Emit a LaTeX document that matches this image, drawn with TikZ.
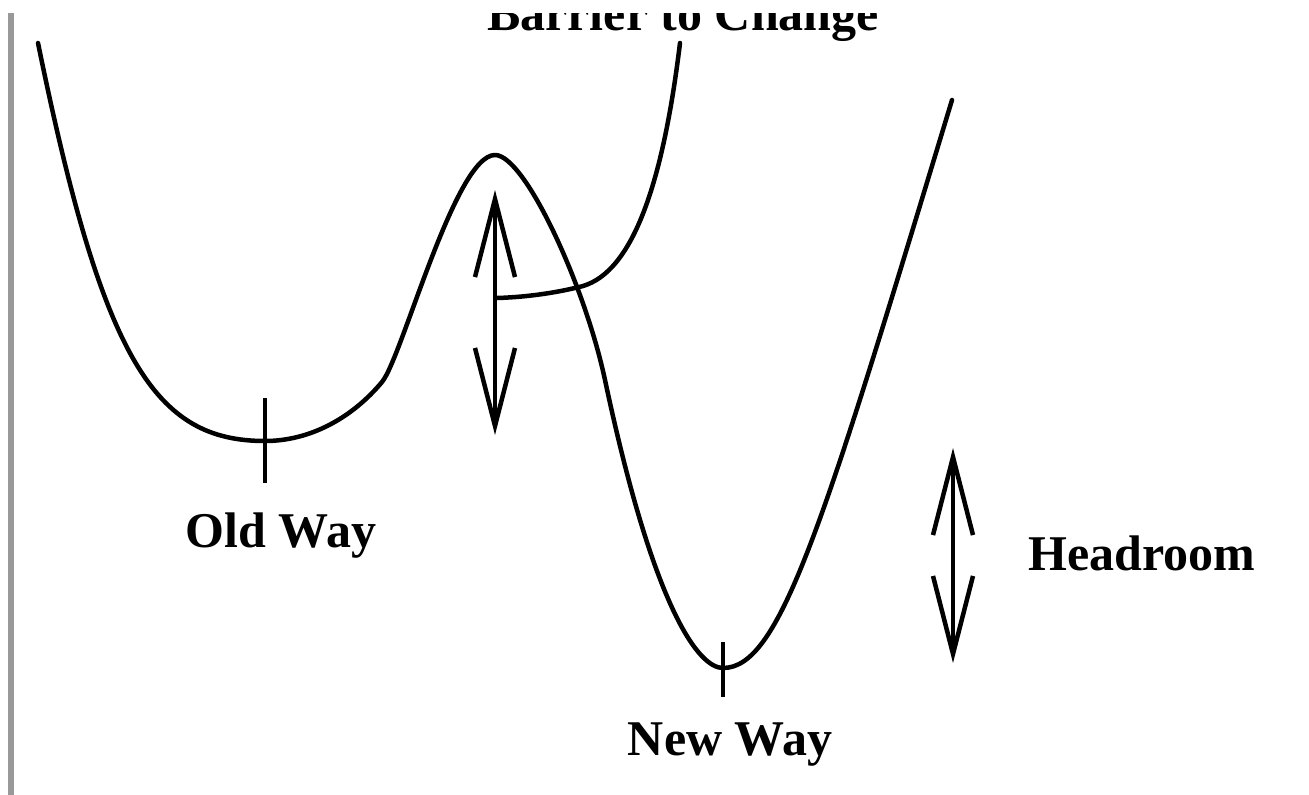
\documentclass[tikz,border=0pt]{standalone}
\usepackage{fontspec}
\setmainfont{Liberation Serif}
\usetikzlibrary{arrows.meta}
\begin{document}
\begin{tikzpicture}[x=1pt,y=-1pt,
  curve/.style={line width=4.5pt, line cap=round, line join=round},
  tickmark/.style={line width=4pt},
  dblarrow/.style={line width=4pt, {Straight Barb[length=78pt,width=40pt,line width=4.5pt]}-{Straight Barb[length=78pt,width=40pt,line width=4.5pt]}},
  lbl/.style={font=\fontsize{50}{60}\selectfont\bfseries, inner sep=0pt, anchor=base}]
\useasboundingbox (0,0) rectangle (1309,795);
\fill[white] (0,0) rectangle (1309,795);
\fill[black!40] (8,13) rectangle (14,795);
\begin{scope}
\clip (0,13) rectangle (1309,795);
% labels
\node[lbl] (barrier) at (683,30) {Barrier to Change};
\node[lbl] (old) at (281,547) {Old Way};
\node[lbl] (new) at (730,755) {New Way};
\node[lbl] (head) at (1142,570) {Headroom};
% key points
\coordinate (start) at (38,43);
\coordinate (oldmin) at (265,441);
\coordinate (shoulder) at (382,382);
\coordinate (peak) at (495,155);
\coordinate (steep) at (605,380);
\coordinate (newmin) at (723,668);
\coordinate (finish) at (952,100);
% energy landscape
\draw[curve] (start) .. controls (103,361) and (155,441) .. (oldmin)
  .. controls (310,441) and (352,418) .. (shoulder)
  .. controls (402,358) and (455,155) .. (peak)
  .. controls (525,155) and (585,286) .. (steep)
  .. controls (655,615) and (700,668) .. (newmin)
  .. controls (780,668) and (822,529) .. (finish);
% tick marks
\coordinate (oldtop) at (265,398);
\coordinate (oldbot) at (265,483);
\coordinate (newtop) at (723,642);
\coordinate (newbot) at (723,697);
\draw[tickmark] (oldtop) -- (oldbot);
\draw[tickmark] (newtop) -- (newbot);
% barrier arrow
\coordinate (bartop) at (495,190);
\coordinate (barbot) at (495,435);
\draw[dblarrow] (bartop) -- (barbot);
% headroom arrow
\coordinate (hdtop) at (953,448);
\coordinate (hdbot) at (953,663);
\draw[dblarrow] (hdtop) -- (hdbot);
% pointer to barrier label
\coordinate (ptr) at (497,298);
\coordinate (ptrend) at (680,43);
\draw[curve] (ptr) .. controls (530,297) and (560,292) .. (583,286)
  .. controls (633,271) and (663,183) .. (ptrend);
\end{scope}
\end{tikzpicture}
\end{document}
